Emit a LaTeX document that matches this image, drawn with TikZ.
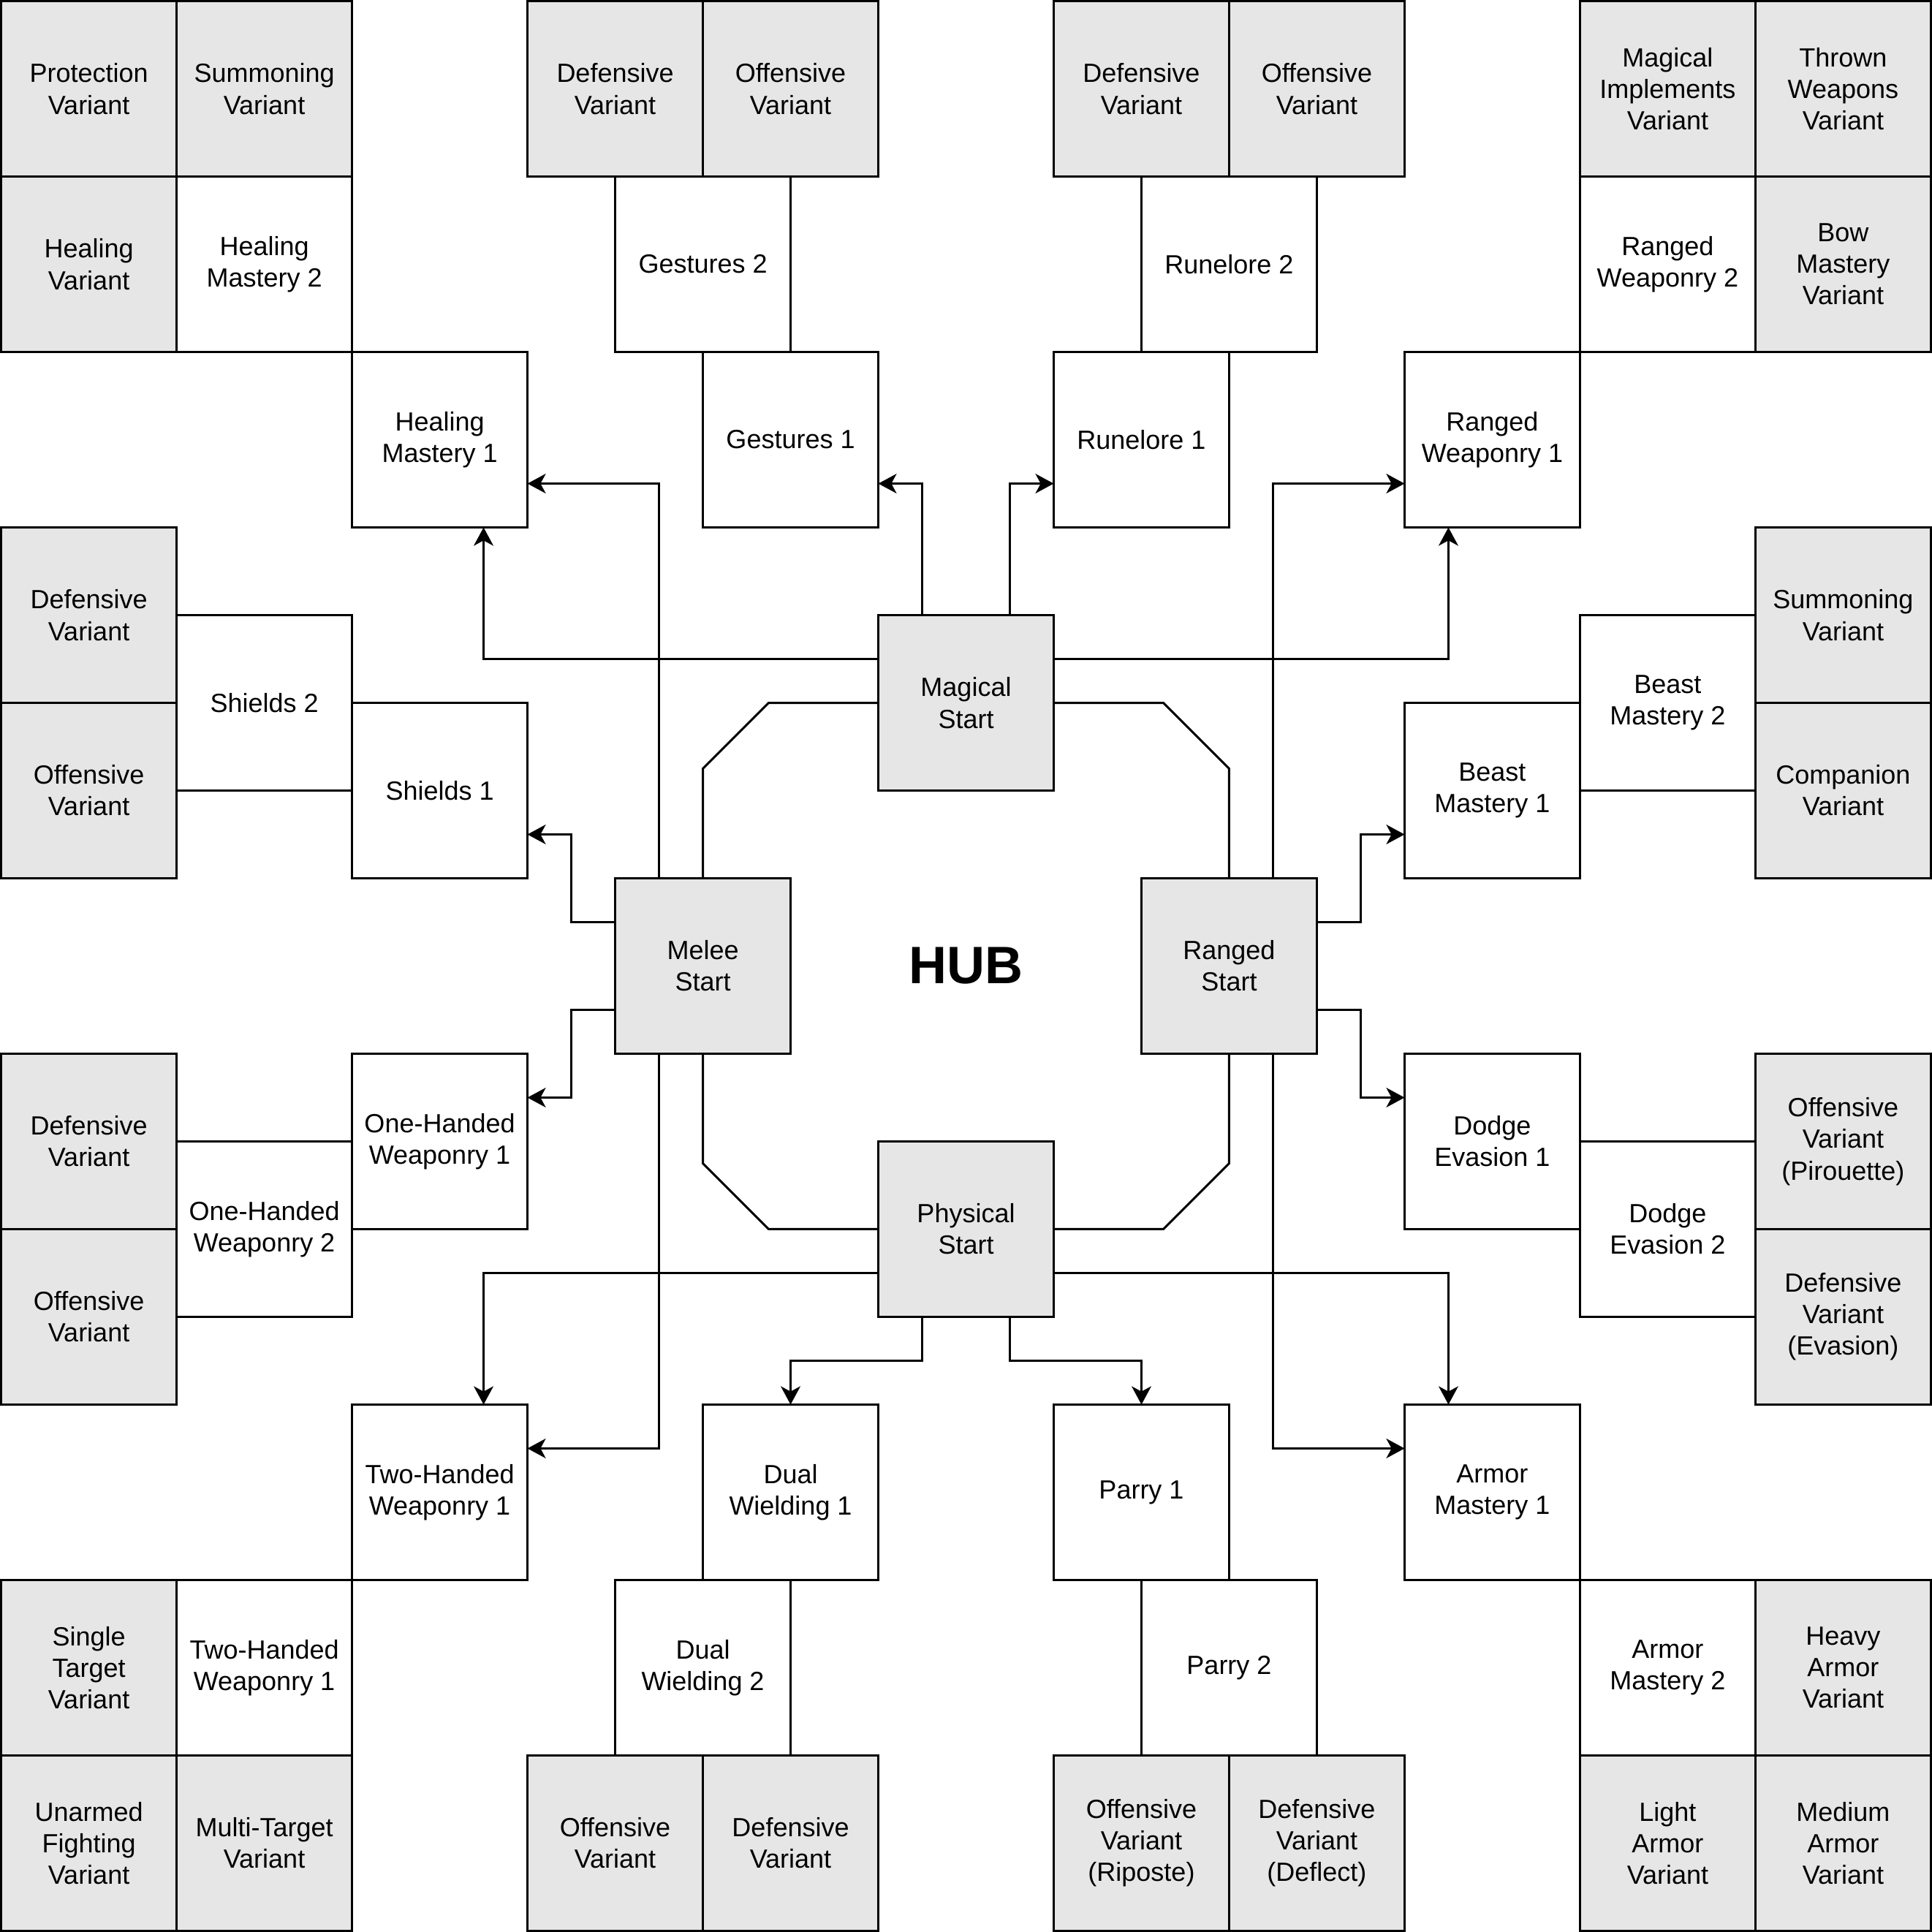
\documentclass[tikz,border=0pt]{standalone}
\usepackage{fontspec}
\setmainfont{Liberation Sans}
\usetikzlibrary{arrows.meta}
\definecolor{varfill}{HTML}{E6E6E6}

\begin{document}
\begin{tikzpicture}
	[x=60pt, y=-60pt, line width=0.75pt,
	 box/.style={rectangle, draw, minimum size=60pt, inner sep=0pt, outer sep=0pt,
		align=center, font=\fontsize{9}{10.8}\selectfont},
	 var/.style={box, fill=varfill},
	 arr/.style={-{Stealth[length=6.25pt, width=6.7pt, inset=1.8pt]}}]
	\useasboundingbox ([xshift=-0.4pt,yshift=0.4pt]0,0) rectangle ([xshift=0.4pt,yshift=-0.4pt]11,11);

	% magical side
	\node[var] (prot) at (0.5,0.5) {Protection\\Variant};
	\node[var] (summ) at (1.5,0.5) {Summoning\\Variant};
	\node[var] (heal) at (0.5,1.5) {Healing\\Variant};
	\node[box] (hm2) at (1.5,1.5) {Healing\\Mastery 2};
	\node[box] (hm1) at (2.5,2.5) {Healing\\Mastery 1};
	\node[var] (gdef) at (3.5,0.5) {Defensive\\Variant};
	\node[var] (goff) at (4.5,0.5) {Offensive\\Variant};
	\node[box] (ges2) at (4,1.5) {Gestures 2};
	\node[box] (ges1) at (4.5,2.5) {Gestures 1};
	\node[var] (rdef) at (6.5,0.5) {Defensive\\Variant};
	\node[var] (roff) at (7.5,0.5) {Offensive\\Variant};
	\node[box] (rl2) at (7,1.5) {Runelore 2};
	\node[box] (rl1) at (6.5,2.5) {Runelore 1};
	\node[var] (mimp) at (9.5,0.5) {Magical\\Implements\\Variant};
	\node[var] (thrown) at (10.5,0.5) {Thrown\\Weapons\\Variant};
	\node[box] (rw2) at (9.5,1.5) {Ranged\\Weaponry 2};
	\node[var] (bow) at (10.5,1.5) {Bow\\Mastery\\Variant};
	\node[box] (rw1) at (8.5,2.5) {Ranged\\Weaponry 1};

	% sides
	\node[var] (sdef) at (0.5,3.5) {Defensive\\Variant};
	\node[var] (soff) at (0.5,4.5) {Offensive\\Variant};
	\node[box] (sh2) at (1.5,4) {Shields 2};
	\node[box] (sh1) at (2.5,4.5) {Shields 1};
	\node[var] (bsum) at (10.5,3.5) {Summoning\\Variant};
	\node[var] (comp) at (10.5,4.5) {Companion\\Variant};
	\node[box] (bm2) at (9.5,4) {Beast\\Mastery 2};
	\node[box] (bm1) at (8.5,4.5) {Beast\\Mastery 1};
	\node[var] (odef) at (0.5,6.5) {Defensive\\Variant};
	\node[var] (ooff) at (0.5,7.5) {Offensive\\Variant};
	\node[box] (ohw2) at (1.5,7) {One-Handed\\Weaponry 2};
	\node[box] (ohw1) at (2.5,6.5) {One-Handed\\Weaponry 1};
	\node[var] (pir) at (10.5,6.5) {Offensive\\Variant\\(Pirouette)};
	\node[var] (eva) at (10.5,7.5) {Defensive\\Variant\\(Evasion)};
	\node[box] (de2) at (9.5,7) {Dodge\\Evasion 2};
	\node[box] (de1) at (8.5,6.5) {Dodge\\Evasion 1};

	% hub
	\node[var] (mag) at (5.5,4) {Magical\\Start};
	\node[var] (mel) at (4,5.5) {Melee\\Start};
	\node[var] (ran) at (7,5.5) {Ranged\\Start};
	\node[var] (phy) at (5.5,7) {Physical\\Start};
	\node[font=\fontsize{18}{21.6}\selectfont\bfseries] (hub) at (5.5,5.5) {HUB};

	% physical side
	\node[box] (thw1) at (2.5,8.5) {Two-Handed\\Weaponry 1};
	\node[box] (thw2) at (1.5,9.5) {Two-Handed\\Weaponry 1};
	\node[var] (single) at (0.5,9.5) {Single\\Target\\Variant};
	\node[var] (unarmed) at (0.5,10.5) {Unarmed\\Fighting\\Variant};
	\node[var] (multi) at (1.5,10.5) {Multi-Target\\Variant};
	\node[box] (dw1) at (4.5,8.5) {Dual\\Wielding 1};
	\node[box] (dw2) at (4,9.5) {Dual\\Wielding 2};
	\node[var] (doff) at (3.5,10.5) {Offensive\\Variant};
	\node[var] (ddef) at (4.5,10.5) {Defensive\\Variant};
	\node[box] (par1) at (6.5,8.5) {Parry 1};
	\node[box] (par2) at (7,9.5) {Parry 2};
	\node[var] (ripo) at (6.5,10.5) {Offensive\\Variant\\(Riposte)};
	\node[var] (defl) at (7.5,10.5) {Defensive\\Variant\\(Deflect)};
	\node[box] (am1) at (8.5,8.5) {Armor\\Mastery 1};
	\node[box] (am2) at (9.5,9.5) {Armor\\Mastery 2};
	\node[var] (heavy) at (10.5,9.5) {Heavy\\Armor\\Variant};
	\node[var] (light) at (9.5,10.5) {Light\\Armor\\Variant};
	\node[var] (medium) at (10.5,10.5) {Medium\\Armor\\Variant};

	% ring round the hub
	\draw (mag.west) -- ++(-37.5pt,0) -- ++(-22.5pt,-22.5pt) -- (mel.north);
	\draw (mag.east) -- ++(37.5pt,0) -- ++(22.5pt,-22.5pt) -- (ran.north);
	\draw (mel.south) -- ++(0,-37.5pt) -- ++(22.5pt,-22.5pt) -- (phy.west);
	\draw (ran.south) -- ++(0,-37.5pt) -- ++(-22.5pt,-22.5pt) -- (phy.east);

	% magical start
	\draw[arr] ([yshift=15pt]mag.west) -| ([xshift=15pt]hm1.south);
	\draw[arr] ([xshift=-15pt]mag.north) |- ([yshift=-15pt]ges1.east);
	\draw[arr] ([xshift=15pt]mag.north) |- ([yshift=-15pt]rl1.west);
	\draw[arr] ([yshift=15pt]mag.east) -| ([xshift=-15pt]rw1.south);

	% melee start
	\draw[arr] ([xshift=-15pt]mel.north) |- ([yshift=-15pt]hm1.east);
	\draw[arr] ([yshift=15pt]mel.west) -- ++(-15pt,0) |- ([yshift=-15pt]sh1.east);
	\draw[arr] ([yshift=-15pt]mel.west) -- ++(-15pt,0) |- ([yshift=15pt]ohw1.east);
	\draw[arr] ([xshift=-15pt]mel.south) |- ([yshift=15pt]thw1.east);

	% ranged start
	\draw[arr] ([xshift=15pt]ran.north) |- ([yshift=-15pt]rw1.west);
	\draw[arr] ([yshift=15pt]ran.east) -- ++(15pt,0) |- ([yshift=-15pt]bm1.west);
	\draw[arr] ([yshift=-15pt]ran.east) -- ++(15pt,0) |- ([yshift=15pt]de1.west);
	\draw[arr] ([xshift=15pt]ran.south) |- ([yshift=15pt]am1.west);

	% physical start
	\draw[arr] ([yshift=-15pt]phy.west) -| ([xshift=15pt]thw1.north);
	\draw[arr] ([xshift=-15pt]phy.south) -- ++(0,-15pt) -| (dw1.north);
	\draw[arr] ([xshift=15pt]phy.south) -- ++(0,-15pt) -| (par1.north);
	\draw[arr] ([yshift=-15pt]phy.east) -| ([xshift=-15pt]am1.north);
\end{tikzpicture}
\end{document}
